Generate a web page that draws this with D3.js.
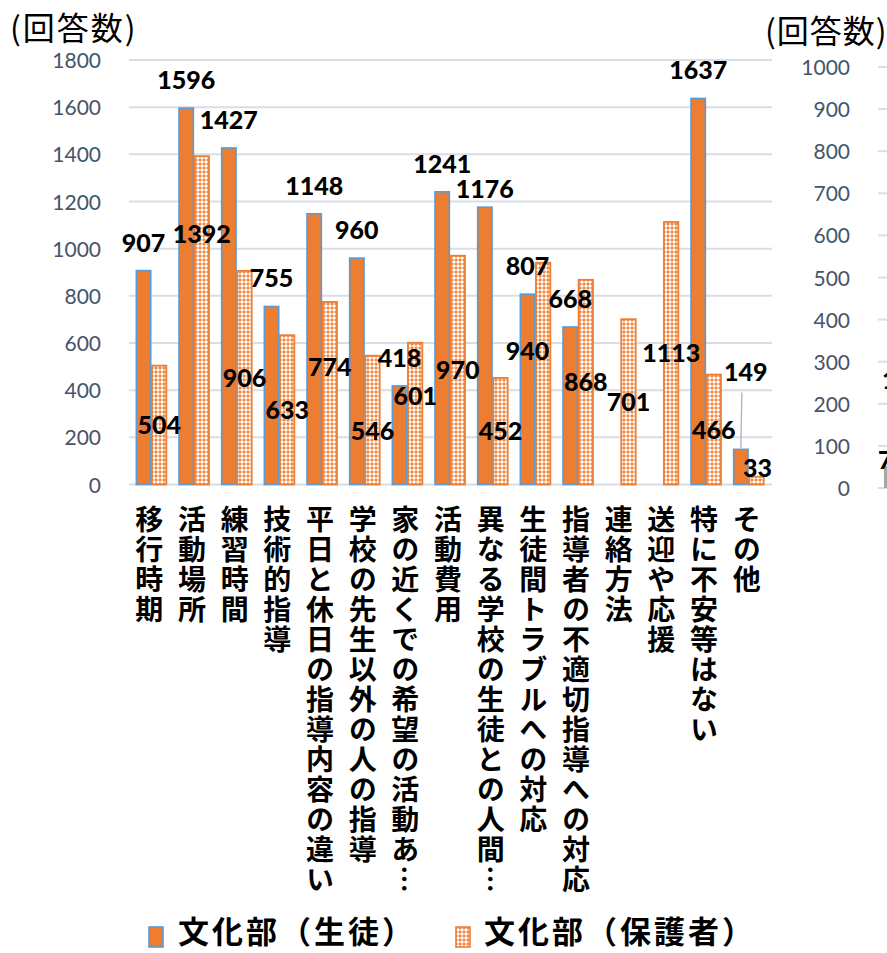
<!DOCTYPE html>
<html>
<head>
<meta charset="utf-8">
<script src="https://cdn.jsdelivr.net/npm/d3@7"></script>
<style>
  html, body { margin: 0; padding: 0; background: #fff; }
  svg { display: block; }
</style>
</head>
<body>
<script>
// ---------- data ----------
const categories = ["移行時期","活動場所","練習時間","技術的指導","平日と休日の指導内容の違い","学校の先生以外の人の指導","家の近くでの希望の活動あ…","活動費用","異なる学校の生徒との人間…","生徒間トラブルへの対応","指導者の不適切指導への対応","連絡方法","送迎や応援","特に不安等はない","その他"];
const seriesNames = ["文化部（生徒）","文化部（保護者）"];
const studentValues = [907,1596,1427,755,1148,960,418,1241,1176,807,668,null,null,1637,149];
const parentValues  = [504,1392,906,633,774,546,601,970,452,940,868,701,1113,466,33];
const yTicks = [0,200,400,600,800,1000,1200,1400,1600,1800];
const yAxisTitle = "(回答数)";
// neighbouring (cut-off) chart on the right
const rightTicks = [0,100,200,300,400,500,600,700,800,900,1000];
const rightValues = [52];
const rightLabels = ["158","76"];

// label placement tweaks (value units where the label centre sits)
const studentLabelAt = {14: 475};
const parentLabelAt = {1: 1061, 4: 497, 5: 225, 6: 374, 9: 565, 14: 72};
const parentLabelOnStudentBar = {9: true};

// ---------- setup ----------
const W = 887, H = 953;
const svg = d3.select("body").append("svg").attr("width", W).attr("height", H);
const defs = svg.append("defs");
const pat = defs.append("pattern").attr("id","dots").attr("patternUnits","userSpaceOnUse")
  .attr("width",4).attr("height",4);
pat.append("rect").attr("width",4).attr("height",4).attr("fill","#ED7D31");
pat.append("circle").attr("cx",2).attr("cy",2).attr("r",1.75).attr("fill","#fff");

const orange = "#ED7D31", blue = "#5B9BD5", grid = "#D9DEE6", tickCol = "#44546A";
const numFont = "Lato, 'DejaVu Sans', sans-serif";
const jpFont = "'Noto Sans CJK JP', 'Noto Sans CJK SC', sans-serif";

const y = d3.scaleLinear().domain([0,1800]).range([484.5, 60]);
const x = d3.scaleBand().domain(categories).range([130, 770]);
const x1 = d3.scaleBand().domain(["s","p"]).range([-15, 15]).paddingInner(0.08);

// gridlines
svg.append("g").selectAll("line").data(yTicks).join("line")
  .attr("x1",129).attr("x2",772)
  .attr("y1",d=>y(d)).attr("y2",d=>y(d))
  .attr("stroke",grid).attr("stroke-width",2);

// y axis labels
const yAxis = d3.axisLeft(y).tickValues(yTicks).tickFormat(d3.format("d")).tickSize(0).tickPadding(0);
const gy = svg.append("g").attr("transform","translate(101,0)").call(yAxis);
gy.select(".domain").remove();
gy.selectAll("text").attr("fill",tickCol).style("font-family",numFont)
  .style("font-size","21px").attr("dy","0.36em");

// title
svg.append("text").attr("x",10).attr("y",40).text(yAxisTitle)
  .style("font-family",jpFont).style("font-size","32px").style("letter-spacing","2px").attr("fill","#000");

// bars
const g = svg.append("g");
categories.forEach((c,i)=>{
  const cx = x(c) + x.bandwidth()/2;
  const sv = studentValues[i], pv = parentValues[i];
  if (sv != null) {
    g.append("rect").attr("x",cx + x1("s")).attr("width",x1.bandwidth())
      .attr("y",y(sv)).attr("height",y(0)-y(sv))
      .attr("fill",orange).attr("stroke",blue).attr("stroke-width",1.6);
  }
  if (pv != null) {
    g.append("rect").attr("x",cx + x1("p")).attr("width",x1.bandwidth())
      .attr("y",y(pv)).attr("height",y(0)-y(pv))
      .attr("fill","url(#dots)").attr("stroke",orange).attr("stroke-width",1.8);
  }
});

// data labels
const lab = svg.append("g").style("font-family",numFont).style("font-weight","900")
  .style("font-size","25px").attr("fill","#000").attr("text-anchor","middle");
categories.forEach((c,i)=>{
  const cx = x(c) + x.bandwidth()/2;
  const sx = cx + x1("s") + x1.bandwidth()/2;
  const px = cx + x1("p") + x1.bandwidth()/2;
  const sv = studentValues[i], pv = parentValues[i];
  if (sv != null) {
    let ly = y(sv) - 28, lx = sx;
    if (i === 8) ly = y(sv) - 18;
    if (studentLabelAt[i] != null) {
      ly = y(studentLabelAt[i]); lx = sx + 5;
      svg.append("line").attr("x1",sx+1).attr("x2",sx).attr("y1",ly+20).attr("y2",y(sv)-1)
        .attr("stroke","#A6B4C4").attr("stroke-width",1.3);
    }
    lab.append("text").attr("x",lx).attr("y",ly).attr("dy","0.36em").text(sv);
  }
  if (pv != null) {
    let ly = parentLabelAt[i] != null ? y(parentLabelAt[i]) : (y(0)+y(pv))/2;
    let lx = parentLabelOnStudentBar[i] ? sx : px;
    if (i === 14) lx = px + 1;
    lab.append("text").attr("x",lx).attr("y",ly).attr("dy","0.36em").text(pv);
  }
});

// category labels (vertical)
svg.append("g").selectAll("text").data(categories).join("text")
  .attr("x",d=>x(d)+x.bandwidth()/2 - 2)
  .attr("y",505)
  .style("writing-mode","vertical-rl")
  .style("font-family",jpFont).style("font-weight","700").style("font-size","28px")
  .style("letter-spacing","2px")
  .attr("fill","#000")
  .text(d=>d);

// legend
const lg = svg.append("g");
lg.append("rect").attr("x",149).attr("y",927).attr("width",14).attr("height",20)
  .attr("fill",orange).attr("stroke",blue).attr("stroke-width",1.6);
lg.append("text").attr("x",178).attr("y",943).text(seriesNames[0])
  .style("font-family",jpFont).style("font-weight","700").style("font-size","31px").style("letter-spacing","3px");
lg.append("rect").attr("x",456).attr("y",927).attr("width",14).attr("height",20)
  .attr("fill","url(#dots)").attr("stroke",orange).attr("stroke-width",1.6);
lg.append("text").attr("x",484).attr("y",943).text(seriesNames[1])
  .style("font-family",jpFont).style("font-weight","700").style("font-size","31px").style("letter-spacing","3px");

// ---------- neighbouring chart (cut off) ----------
const y2 = d3.scaleLinear().domain([0,1000]).range([488, 67]);
svg.append("text").attr("x",765).attr("y",43).text(yAxisTitle)
  .style("font-family",jpFont).style("font-size","32px").style("letter-spacing","1px");
svg.append("g").selectAll("line").data(rightTicks).join("line")
  .attr("x1",878).attr("x2",W).attr("y1",d=>y2(d)).attr("y2",d=>y2(d))
  .attr("stroke",grid).attr("stroke-width",2);
const gy2 = svg.append("g").attr("transform","translate(850,0)")
  .call(d3.axisLeft(y2).tickValues(rightTicks).tickFormat(d3.format("d")).tickSize(0).tickPadding(0));
gy2.select(".domain").remove();
gy2.selectAll("text").attr("fill",tickCol).style("font-family",numFont)
  .style("font-size","21px").attr("dy","0.36em");
svg.append("g").selectAll("rect").data(rightValues).join("rect")
  .attr("x",884).attr("width",14).attr("y",d=>y2(d)).attr("height",d=>y2(0)-y2(d))
  .attr("fill","#A5A5A5");
svg.append("text").attr("x",882).attr("y",380).attr("dy","0.36em").text(rightLabels[0])
  .style("font-family",numFont).style("font-weight","900").style("font-size","25px");
svg.append("text").attr("x",878).attr("y",460).attr("dy","0.36em").text(rightLabels[1])
  .style("font-family",numFont).style("font-weight","900").style("font-size","25px");
</script>
</body>
</html>
